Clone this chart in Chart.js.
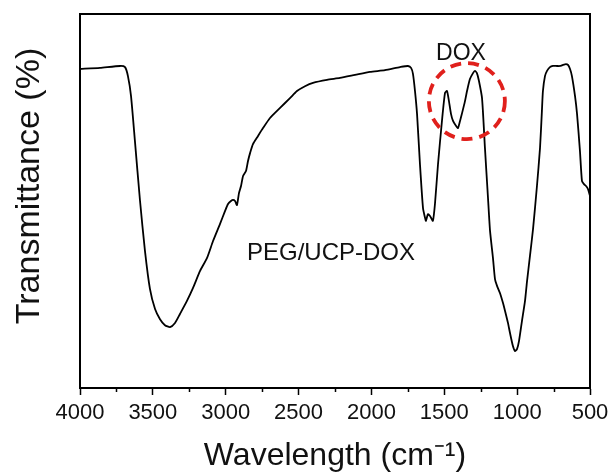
<!DOCTYPE html>
<html>
<head>
<meta charset="utf-8">
<script src="https://cdn.jsdelivr.net/npm/chart.js@4"></script>
<style>
html,body{margin:0;padding:0;background:#fff;}
canvas{display:block;}
</style>
</head>
<body>
<canvas id="c" width="615" height="475"></canvas>
<script>
// Wavenumber (cm-1) and transmittance (arbitrary %)
const wavenumbers = [4000,3863,3725,3691,3671,3650,3623,3588,3554,3520,3485,3451,3417,3382,3348,3314,3266,3225,3176,3128,3087,3039,3005,2984,2964,2950,2936,2923,2909,2895,2881,2861,2847,2833,2813,2778,2744,2696,2627,2559,2511,2456,2401,2305,2216,2113,2010,1907,1804,1749,1728,1715,1701,1687,1667,1646,1632,1626,1612,1598,1591,1578,1564,1543,1516,1495,1481,1468,1454,1440,1420,1406,1392,1378,1358,1344,1324,1303,1290,1276,1262,1241,1221,1200,1186,1166,1152,1138,1118,1097,1083,1063,1049,1029,1015,1001,987,967,946,932,912,891,864,843,830,823,809,795,775,754,727,706,685,665,651,637,624,603,589,569,555,541,527,514,500];
const transmittance = [85.3,85.6,86.1,85.8,83.4,78.1,66.0,50.0,36.6,26.5,21.1,18.4,16.8,16.3,17.4,19.8,23.3,26.7,31.3,34.8,39.3,43.9,47.3,49.2,50.0,50.3,50.0,48.9,52.1,54.0,56.7,58.0,60.7,62.8,65.2,67.4,69.5,72.2,74.9,77.5,79.4,80.7,81.6,82.4,82.9,83.7,84.5,85.0,85.8,86.1,85.6,84.0,79.4,73.3,59.9,48.1,45.5,44.7,46.5,46.0,45.5,44.7,49.2,59.9,71.4,78.9,79.4,76.7,73.3,71.4,70.1,69.5,71.4,73.5,76.7,79.4,82.6,84.2,84.8,84.2,82.1,77.5,64.2,50.8,42.0,34.8,29.1,27.3,25.4,22.7,20.6,17.4,14.7,11.2,9.9,10.4,12.6,17.9,23.3,28.6,35.3,42.5,54.0,64.2,74.1,79.4,83.4,84.8,85.8,86.1,86.1,86.1,86.4,86.6,86.4,85.3,83.4,78.1,73.3,63.4,55.3,54.5,54.0,53.2,51.3];
const majorTicks = [4000,3500,3000,2500,2000,1500,1000,500];
const minorTicks = [3750,3250,2750,2250,1750,1250,750];
const xTitle = 'Wavelength (cm\u207B\u00B9)';
const yTitle = 'Transmittance (%)';
const sampleLabel = 'PEG/UCP-DOX';
const doxLabel = 'DOX';

const FONT = "'Liberation Sans', Arial, Helvetica, sans-serif";

const points = wavenumbers.map((w, i) => ({x: w, y: transmittance[i]}));

const extras = {
  id: 'extras',
  afterDatasetsDraw(chart) {
    const {ctx, chartArea: a, scales: {x, y}} = chart;
    ctx.save();
    // frame top/right
    ctx.strokeStyle = '#000';
    ctx.lineWidth = 2;
    ctx.beginPath();
    ctx.moveTo(a.left, a.top); ctx.lineTo(a.right, a.top); ctx.lineTo(a.right, a.bottom);
    ctx.stroke();
    // minor ticks
    ctx.lineWidth = 1.5;
    ctx.beginPath();
    minorTicks.forEach(v => {
      const px = Math.round(x.getPixelForValue(v)) + 0.5;
      ctx.moveTo(px, a.bottom); ctx.lineTo(px, a.bottom + 4);
    });
    ctx.stroke();
    // dashed circle around DOX peaks
    ctx.strokeStyle = '#e0201c';
    ctx.lineWidth = 3.8;
    ctx.setLineDash([11, 7]);
    ctx.beginPath();
    ctx.arc(x.getPixelForValue(1345), y.getPixelForValue(76.7), 38, 0, Math.PI * 2);
    ctx.stroke();
    ctx.setLineDash([]);
    // text labels
    ctx.fillStyle = '#111';
    ctx.textBaseline = 'middle';
    ctx.textAlign = 'center';
    ctx.font = '23px ' + FONT;
    ctx.fillText(doxLabel, x.getPixelForValue(1385), y.getPixelForValue(89.4));
    ctx.textAlign = 'left';
    ctx.font = '24px ' + FONT;
    ctx.fillText(sampleLabel, x.getPixelForValue(2854), y.getPixelForValue(36));
    // y axis title
    ctx.font = '34px ' + FONT;
    ctx.textAlign = 'center';
    ctx.translate(30, 186);
    ctx.rotate(-Math.PI / 2);
    ctx.fillText(yTitle, 0, 0);
    ctx.restore();
  }
};

new Chart(document.getElementById('c'), {
  type: 'scatter',
  data: {
    datasets: [{
      data: points,
      showLine: true,
      borderColor: '#000',
      borderWidth: 1.8,
      pointRadius: 0,
      tension: 0.2,
      fill: false
    }]
  },
  options: {
    responsive: false,
    animation: false,
    layout: {padding: {top: 14, right: 25, left: 0, bottom: 0}},
    plugins: {legend: {display: false}, tooltip: {enabled: false}},
    scales: {
      x: {
        type: 'linear',
        reverse: true,
        min: 500, max: 4000,
        afterBuildTicks(s) { s.ticks = majorTicks.map(v => ({value: v})); },
        afterFit(s) { s.height = 87; },
        ticks: {color: '#111', font: {family: FONT, size: 22}, padding: 5, maxRotation: 0, autoSkip: false,
                callback: v => String(v)},
        grid: {display: true, drawOnChartArea: false, drawTicks: true, tickLength: 7, tickWidth: 1.5, tickColor: '#000'},
        border: {display: true, color: '#000', width: 2},
        title: {display: true, text: xTitle, color: '#111', font: {family: FONT, size: 32}, padding: {top: 0, bottom: 0}}
      },
      y: {
        min: 0, max: 100,
        afterFit(s) { s.width = 80; },
        ticks: {display: false},
        grid: {display: true, drawOnChartArea: false, drawTicks: false},
        border: {display: true, color: '#000', width: 2},
        title: {display: false}
      }
    }
  },
  plugins: [extras]
});
</script>
</body>
</html>
